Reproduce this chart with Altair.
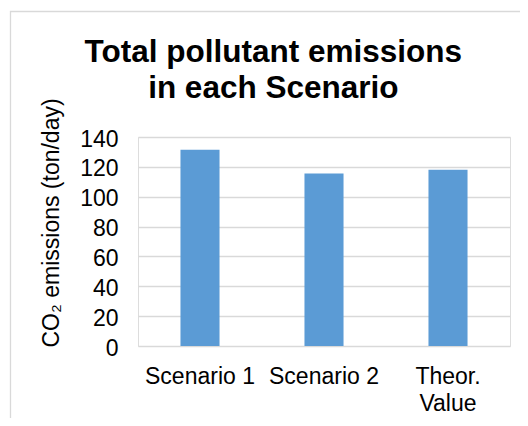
import altair as alt
import pandas as pd

categories = ["Scenario 1", "Scenario 2", "Theor. Value"]
values = [131.5, 115.5, 118.0]
y_ticks = [0, 20, 40, 60, 80, 100, 120, 140]

df = pd.DataFrame({"scenario": categories, "emissions": values})

FONT = "Liberation Sans, Arial, sans-serif"
GRID = "#D9D9D9"

bars = alt.Chart(df).mark_bar(color="#5B9BD5").encode(
    x=alt.X(
        "scenario:N",
        sort=categories,
        scale=alt.Scale(paddingInner=0.685, paddingOuter=0.3425),
        axis=alt.Axis(
            title=None,
            labelAngle=0,
            labelFont=FONT,
            labelFontSize=23,
            labelColor="#000000",
            labelPadding=19,
            labelLineHeight=27,
            labelOverlap=False,
            labelExpr="datum.value == 'Theor. Value' ? ['Theor.', 'Value'] : datum.label",
            ticks=False,
            domain=False,
            grid=False,
        ),
    ),
    y=alt.Y(
        "emissions:Q",
        scale=alt.Scale(domain=[0, 140], nice=False),
        axis=alt.Axis(
            title="CO\u2082 emissions (ton/day)",
            titleFont=FONT,
            titleFontSize=23,
            titleFontWeight="normal",
            titleColor="#000000",
            titleX=-80,
            titleY=85.5,
            titleBaseline="alphabetic",
            titleAlign="center",
            titleAngle=270,
            values=y_ticks,
            labelFont=FONT,
            labelFontSize=23,
            labelColor="#000000",
            labelPadding=20,
            labelOffset=2,
            ticks=False,
            domain=False,
            grid=True,
            gridColor=GRID,
            gridWidth=1.3,
        ),
    ),
)

border = alt.Chart(alt.Data(values=[{"k": 1}])).mark_rect(
    filled=False, stroke=GRID, strokeWidth=1.3
).encode(
    x=alt.value(-127.5),
    x2=alt.value(700),
    y=alt.value(-125.5),
    y2=alt.value(600),
)

chart = alt.layer(border, bars).properties(
    width=372,
    height=209,
    autosize=alt.AutoSizeParams(type="none"),
    padding={"left": 130, "top": 129, "right": 10, "bottom": 72},
    title=alt.TitleParams(
        text=["Total pollutant emissions", "in each Scenario"],
        font=FONT,
        fontSize=31.5,
        fontWeight="bold",
        color="#000000",
        anchor="middle",
        frame="group",
        dx=-50.7,
        offset=-94,
        lineHeight=36,
    ),
).configure_view(stroke=None).configure(background="white")

chart.save("out.html", embed_options={"renderer": "svg", "actions": False})
